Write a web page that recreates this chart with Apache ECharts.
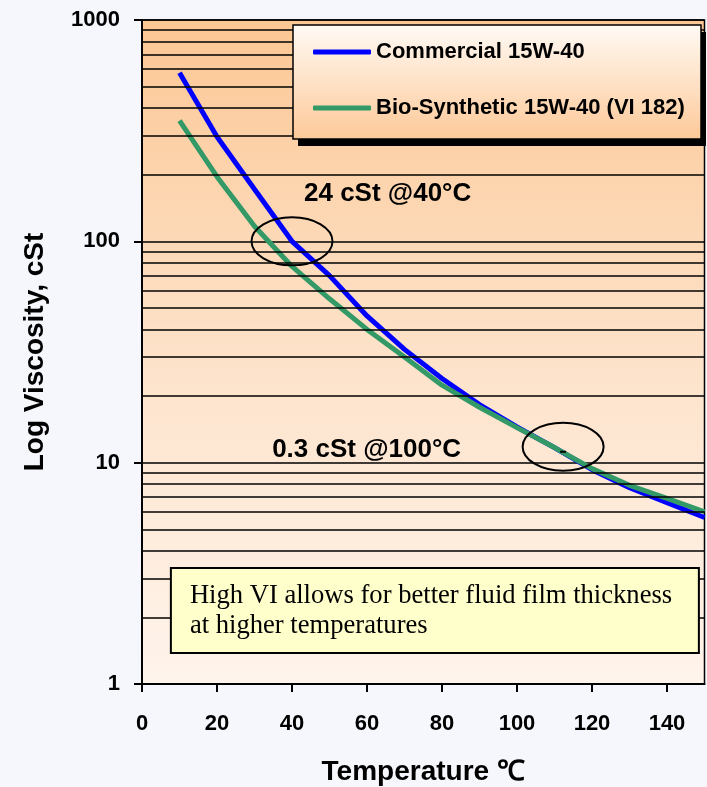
<!DOCTYPE html>
<html><head><meta charset="utf-8">
<script src="https://cdn.jsdelivr.net/npm/echarts@6/dist/echarts.min.js"></script>
<style>html,body{margin:0;padding:0;background:#f6f7fc;} #c{width:707px;height:787px;}</style>
</head><body><div id="c"></div>
<script>
// ---- data ----
const temperatures = [10, 20, 30, 40, 50, 60, 70, 80, 90, 100, 110, 120, 130, 140, 150];
const commercial   = [578, 297, 172, 100, 70, 46, 32.5, 24, 18.3, 14.5, 11.7, 9.3, 7.7, 6.6, 5.65];
const bioSynthetic = [351, 196, 117, 77, 55, 40, 30, 22.4, 17.8, 14.4, 11.7, 9.4, 7.9, 6.9, 6.0];
const xTickValues  = [0, 20, 40, 60, 80, 100, 120, 140];
const yMinorGrid   = [2,3,4,5,6,7,8,9, 20,30,40,50,60,70,80,90, 200,300,400,500,600,700,800,900];
const seriesNames  = ['Commercial 15W-40', 'Bio-Synthetic 15W-40 (VI 182)'];
const note1 = {text: '24 cSt @40°C', at: [65.5, 164]};
const note2 = {text: '0.3 cSt @100°C', at: [59.9, 11.4]};
const circles = [{at: [40, 100]}, {at: [112.3, 11.8]}];
const noteBox = {lines: ['High VI allows for better fluid film thickness', 'at higher temperatures'], from: [7.7, 3.34], to: [148.5, 1.38]};

const SANS = '"Liberation Sans", Arial, sans-serif';
const chart = echarts.init(document.getElementById('c'), null, {renderer: 'canvas'});
const pair = (xs, ys) => xs.map((x, i) => [x, ys[i]]);
const LEG = {left: 293, top: 25, width: 408, height: 114};

chart.setOption({
  animation: false,
  backgroundColor: 'transparent',
  grid: {
    left: 142, top: 20, width: 562.5, height: 664,
    outerBoundsMode: 'none', containLabel: false,
    show: true, borderColor: '#000', borderWidth: 1.5,
    backgroundColor: {type: 'linear', x: 0, y: 0, x2: 0, y2: 1,
      colorStops: [{offset: 0, color: '#fcc794'}, {offset: 0.5, color: '#fde2c9'}, {offset: 1, color: '#fff4ec'}]}
  },
  legend: {
    data: seriesNames, orient: 'vertical', left: LEG.left, top: LEG.top, z: 30,
    icon: 'roundRect', itemWidth: 58, itemHeight: 5, itemGap: 30,
    padding: [14, 16, 19, 20],
    backgroundColor: 'transparent', borderWidth: 0,
    textStyle: {fontFamily: SANS, fontWeight: 'bold', fontSize: 22, lineHeight: 26, color: '#000'},
    selectedMode: false
  },
  xAxis: {
    type: 'value', min: 0, max: 150,
    name: 'Temperature ℃', nameLocation: 'middle', nameGap: 74,
    nameTextStyle: {fontFamily: SANS, fontWeight: 'bold', fontSize: 28, color: '#000'},
    axisLine: {show: true, lineStyle: {color: '#000', width: 2}},
    axisTick: {show: true, length: 8, lineStyle: {color: '#000', width: 2}, customValues: xTickValues},
    axisLabel: {fontFamily: SANS, fontWeight: 'bold', fontSize: 22, color: '#000', margin: 29, customValues: xTickValues},
    splitLine: {show: false}
  },
  yAxis: {
    type: 'log', logBase: 10, min: 1, max: 1000,
    name: 'Log Viscosity, cSt', nameLocation: 'middle', nameGap: 93,
    nameTextStyle: {fontFamily: SANS, fontWeight: 'bold', fontSize: 28, color: '#000'},
    axisLine: {show: true, lineStyle: {color: '#000', width: 2}},
    axisTick: {show: true, length: 8, lineStyle: {color: '#000', width: 2}},
    axisLabel: {fontFamily: SANS, fontWeight: 'bold', fontSize: 22, color: '#000', margin: 22,
                formatter: v => String(Math.round(v))},
    splitLine: {show: true, lineStyle: {color: '#000', width: 1.5}}
  },
  series: [
    {
      type: 'line', name: 'grid', data: [], z: 1, silent: true,
      markLine: {
        silent: true, symbol: ['none', 'none'], label: {show: false},
        lineStyle: {color: '#000', width: 1.5, type: 'solid'},
        emphasis: {disabled: true},
        data: yMinorGrid.map(v => ({yAxis: v}))
      }
    },
    {type: 'line', name: seriesNames[0], data: pair(temperatures, commercial), symbol: 'none', z: 3,
     lineStyle: {color: '#0000ff', width: 5}, itemStyle: {color: '#0000ff'}},
    {type: 'line', name: seriesNames[1], data: pair(temperatures, bioSynthetic), symbol: 'none', z: 4,
     lineStyle: {color: '#339966', width: 5}, itemStyle: {color: '#339966'}}
  ]
});

function px(p) { return chart.convertToPixel({gridIndex: 0}, p); }
const g = [];
// legend frame (shadow + gradient box)
g.push({type: 'rect', z: 20, shape: {x: LEG.left + 5, y: LEG.top + 7, width: LEG.width, height: LEG.height},
        style: {fill: '#000'}});
g.push({type: 'rect', z: 21, shape: {x: LEG.left, y: LEG.top, width: LEG.width, height: LEG.height},
        style: {fill: {type: 'linear', x: 0, y: 0, x2: 0, y2: 1,
                       colorStops: [{offset: 0, color: '#fffaf5'}, {offset: 1, color: '#fdc998'}]},
                stroke: '#000', lineWidth: 1.5}});
circles.forEach(c => {
  const p = px(c.at);
  g.push({type: 'ellipse', shape: {cx: p[0], cy: p[1], rx: 40.5, ry: 24}, z: 10,
          style: {fill: null, stroke: '#000', lineWidth: 2}});
});
const dashP = px(circles[1].at);
g.push({type: 'line', shape: {x1: dashP[0] - 3, y1: dashP[1] + 5, x2: dashP[0] + 3, y2: dashP[1] + 5}, z: 10,
        style: {stroke: '#000', lineWidth: 2}});
[note1, note2].forEach(n => {
  const p = px(n.at);
  g.push({type: 'text', x: p[0], y: p[1], z: 10,
          style: {text: n.text, fill: '#000', font: 'bold 26px ' + SANS, align: 'center', verticalAlign: 'middle'}});
});
const b0 = px(noteBox.from), b1 = px(noteBox.to);
g.push({type: 'rect', shape: {x: b0[0], y: b0[1], width: b1[0] - b0[0], height: b1[1] - b0[1]}, z: 10,
        style: {fill: '#ffffcc', stroke: '#000', lineWidth: 2}});
g.push({type: 'text', x: b0[0] + 19, y: b0[1] + 13, z: 11,
        style: {text: noteBox.lines.join('\n'), fill: '#000', font: '26.6px "Liberation Serif", "Times New Roman", serif',
                lineHeight: 30, align: 'left', verticalAlign: 'top'}});
chart.setOption({graphic: g});
</script>
</body></html>
